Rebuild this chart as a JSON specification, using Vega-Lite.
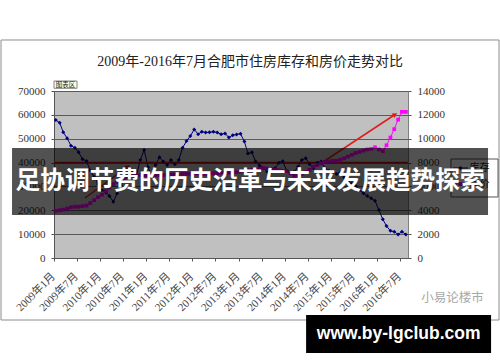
{
  "$schema": "https://vega.github.io/schema/vega-lite/v6.json",
  "width": 354,
  "height": 167,
  "autosize": {"type": "none"},
  "padding": {"left": 54, "top": 91, "right": 92, "bottom": 104},
  "background": "#ffffff",
  "config": {
    "view": {"fill": "#c0c0c0", "stroke": "#808080", "strokeWidth": 1},
    "axis": {"labelFont": "Liberation Serif, Noto Sans CJK SC", "labelColor": "#333333", "labelFontSize": 11, "domainColor": "#555555", "tickColor": "#555555"}
  },
  "datasets": {
    "series": [
      {"date": "2009-01-15", "inventory": 57800, "price": 3950},
      {"date": "2009-02-15", "inventory": 56700, "price": 4000},
      {"date": "2009-03-15", "inventory": 52700, "price": 4050},
      {"date": "2009-04-15", "inventory": 50200, "price": 4150},
      {"date": "2009-05-15", "inventory": 47100, "price": 4250},
      {"date": "2009-06-15", "inventory": 46200, "price": 4300},
      {"date": "2009-07-15", "inventory": 44300, "price": 4300},
      {"date": "2009-08-15", "inventory": 41400, "price": 4350},
      {"date": "2009-09-15", "inventory": 40700, "price": 4400},
      {"date": "2009-10-15", "inventory": 36600, "price": 4600},
      {"date": "2009-11-15", "inventory": 34000, "price": 4850},
      {"date": "2009-12-15", "inventory": 31000, "price": 5100},
      {"date": "2010-01-15", "inventory": 28500, "price": 5300},
      {"date": "2010-02-15", "inventory": 27500, "price": 5600},
      {"date": "2010-03-15", "inventory": 26000, "price": 5900},
      {"date": "2010-04-15", "inventory": 23600, "price": 6200},
      {"date": "2010-05-15", "inventory": 27000, "price": 6400},
      {"date": "2010-06-15", "inventory": 30500, "price": 6600},
      {"date": "2010-07-15", "inventory": 33500, "price": 6750},
      {"date": "2010-08-15", "inventory": 36000, "price": 6850},
      {"date": "2010-09-15", "inventory": 36600, "price": 6900},
      {"date": "2010-10-15", "inventory": 34800, "price": 6900},
      {"date": "2010-11-15", "inventory": 41100, "price": 6950},
      {"date": "2010-12-15", "inventory": 45300, "price": 6950},
      {"date": "2011-01-15", "inventory": 38000, "price": 6900},
      {"date": "2011-02-15", "inventory": 34100, "price": 6900},
      {"date": "2011-03-15", "inventory": 39000, "price": 6950},
      {"date": "2011-04-15", "inventory": 42200, "price": 6950},
      {"date": "2011-05-15", "inventory": 40400, "price": 6950},
      {"date": "2011-06-15", "inventory": 39000, "price": 7000},
      {"date": "2011-07-15", "inventory": 41100, "price": 7000},
      {"date": "2011-08-15", "inventory": 39300, "price": 7000},
      {"date": "2011-09-15", "inventory": 41100, "price": 7000},
      {"date": "2011-10-15", "inventory": 46200, "price": 7050},
      {"date": "2011-11-15", "inventory": 49000, "price": 7050},
      {"date": "2011-12-15", "inventory": 51100, "price": 7050},
      {"date": "2012-01-15", "inventory": 53900, "price": 7100},
      {"date": "2012-02-15", "inventory": 51900, "price": 7100},
      {"date": "2012-03-15", "inventory": 52900, "price": 7050},
      {"date": "2012-04-15", "inventory": 52600, "price": 7050},
      {"date": "2012-05-15", "inventory": 52700, "price": 7100},
      {"date": "2012-06-15", "inventory": 52900, "price": 7100},
      {"date": "2012-07-15", "inventory": 52600, "price": 7100},
      {"date": "2012-08-15", "inventory": 51900, "price": 7150},
      {"date": "2012-09-15", "inventory": 52200, "price": 7150},
      {"date": "2012-10-15", "inventory": 50500, "price": 7150},
      {"date": "2012-11-15", "inventory": 51500, "price": 7200},
      {"date": "2012-12-15", "inventory": 51800, "price": 7200},
      {"date": "2013-01-15", "inventory": 52100, "price": 7250},
      {"date": "2013-02-15", "inventory": 48800, "price": 7300},
      {"date": "2013-03-15", "inventory": 43800, "price": 7350},
      {"date": "2013-04-15", "inventory": 44300, "price": 7400},
      {"date": "2013-05-15", "inventory": 40400, "price": 7450},
      {"date": "2013-06-15", "inventory": 38700, "price": 7500},
      {"date": "2013-07-15", "inventory": 37600, "price": 7550},
      {"date": "2013-08-15", "inventory": 36200, "price": 7500},
      {"date": "2013-09-15", "inventory": 36200, "price": 7450},
      {"date": "2013-10-15", "inventory": 37600, "price": 7400},
      {"date": "2013-11-15", "inventory": 39900, "price": 7350},
      {"date": "2013-12-15", "inventory": 40600, "price": 7300},
      {"date": "2014-01-15", "inventory": 36600, "price": 7300},
      {"date": "2014-02-15", "inventory": 35500, "price": 7100},
      {"date": "2014-03-15", "inventory": 36000, "price": 6900},
      {"date": "2014-04-15", "inventory": 38300, "price": 6950},
      {"date": "2014-05-15", "inventory": 41100, "price": 7050},
      {"date": "2014-06-15", "inventory": 41800, "price": 7200},
      {"date": "2014-07-15", "inventory": 39400, "price": 7400},
      {"date": "2014-08-15", "inventory": 37600, "price": 7650},
      {"date": "2014-09-15", "inventory": 39900, "price": 7800},
      {"date": "2014-10-15", "inventory": 40400, "price": 7950},
      {"date": "2014-11-15", "inventory": 37600, "price": 8050},
      {"date": "2014-12-15", "inventory": 36600, "price": 8100},
      {"date": "2015-01-15", "inventory": 36200, "price": 8150},
      {"date": "2015-02-15", "inventory": 35200, "price": 8150},
      {"date": "2015-03-15", "inventory": 35800, "price": 8250},
      {"date": "2015-04-15", "inventory": 33800, "price": 8350},
      {"date": "2015-05-15", "inventory": 32300, "price": 8500},
      {"date": "2015-06-15", "inventory": 31200, "price": 8650},
      {"date": "2015-07-15", "inventory": 30200, "price": 8800},
      {"date": "2015-08-15", "inventory": 28500, "price": 8900},
      {"date": "2015-09-15", "inventory": 27100, "price": 9000},
      {"date": "2015-10-15", "inventory": 26000, "price": 9100},
      {"date": "2015-11-15", "inventory": 25000, "price": 9150},
      {"date": "2015-12-15", "inventory": 24000, "price": 9280},
      {"date": "2016-01-15", "inventory": 20100, "price": 9100},
      {"date": "2016-02-15", "inventory": 16200, "price": 8950},
      {"date": "2016-03-15", "inventory": 13400, "price": 9450},
      {"date": "2016-04-15", "inventory": 11400, "price": 10100},
      {"date": "2016-05-15", "inventory": 11000, "price": 10800},
      {"date": "2016-06-15", "inventory": 9900, "price": 11600},
      {"date": "2016-07-15", "inventory": 11000, "price": 12250},
      {"date": "2016-08-15", "inventory": 9900, "price": 12250}
    ]
  },
  "layer": [
    {
      "data": {"name": "series"},
      "mark": {"type": "line", "color": "#000080", "strokeWidth": 1},
      "encoding": {
        "x": {
          "field": "date", "type": "temporal", "title": null,
          "scale": {"type": "utc", "domain": [{"year": 2009, "month": 1, "date": 1, "utc": true}, {"year": 2016, "month": 9, "date": 1, "utc": true}]},
          "axis": {
            "orient": "bottom",
            "tickCount": {"interval": "month", "step": 6},
            "labelExpr": "utcFormat(datum.value, '%Y') + '年' + (utcmonth(datum.value) + 1) + '月'",
            "labelAngle": -45,
            "labelFontSize": 11,
            "labelColor": "#444444",
            "tickSize": 3,
            "labelPadding": 9,
            "labelOffset": -5,
            "grid": false,
            "labelOverlap": false,
            "labelFlush": false
          }
        },
        "y": {
          "field": "inventory", "type": "quantitative", "title": null,
          "scale": {"domain": [0, 70000], "nice": false, "zero": false},
          "axis": {"orient": "left", "values": [0, 10000, 20000, 30000, 40000, 50000, 60000, 70000], "format": "d", "grid": true, "gridColor": "#5a5a5a", "gridWidth": 1, "gridOpacity": 1, "tickSize": 3, "labelPadding": 6, "labelFontSize": 11}
        }
      }
    },
    {
      "data": {"values": [{"level": 40000}]},
      "mark": {"type": "rule", "color": "#c01818", "strokeWidth": 1.5},
      "encoding": {
        "y": {"field": "level", "type": "quantitative", "scale": {"domain": [0, 70000], "nice": false, "zero": false}, "axis": null}
      }
    },
    {
      "data": {"name": "series"},
      "mark": {"type": "point", "shape": "diamond", "filled": true, "size": 16, "color": "#000080", "opacity": 1},
      "encoding": {
        "x": {"field": "date", "type": "temporal", "scale": {"type": "utc", "domain": [{"year": 2009, "month": 1, "date": 1, "utc": true}, {"year": 2016, "month": 9, "date": 1, "utc": true}]}, "axis": null},
        "y": {"field": "inventory", "type": "quantitative", "scale": {"domain": [0, 70000], "nice": false, "zero": false}, "axis": null}
      }
    },
    {
      "data": {"values": [
        {"x": "2009-09-03", "y": 25150, "x2": "2010-08-09", "y2": 38270},
        {"x": "2014-10-30", "y": 40240, "x2": "2016-05-22", "y2": 60150}
      ]},
      "mark": {"type": "rule", "color": "#e01c1c", "strokeWidth": 1.5},
      "encoding": {
        "x": {"field": "x", "type": "temporal", "scale": {"type": "utc", "domain": [{"year": 2009, "month": 1, "date": 1, "utc": true}, {"year": 2016, "month": 9, "date": 1, "utc": true}]}, "axis": null},
        "x2": {"field": "x2"},
        "y": {"field": "y", "type": "quantitative", "scale": {"domain": [0, 70000], "nice": false, "zero": false}, "axis": null},
        "y2": {"field": "y2"}
      }
    },
    {
      "data": {"values": [{"x": "2010-08-09", "y": 38270}]},
      "mark": {"type": "point", "shape": "triangle-up", "filled": true, "size": 30, "color": "#e01c1c", "opacity": 1, "angle": 54},
      "encoding": {
        "x": {"field": "x", "type": "temporal", "scale": {"type": "utc", "domain": [{"year": 2009, "month": 1, "date": 1, "utc": true}, {"year": 2016, "month": 9, "date": 1, "utc": true}]}, "axis": null},
        "y": {"field": "y", "type": "quantitative", "scale": {"domain": [0, 70000], "nice": false, "zero": false}, "axis": null}
      }
    },
    {
      "data": {"values": [{"x": "2016-05-22", "y": 60150}]},
      "mark": {"type": "point", "shape": "triangle-up", "filled": true, "size": 30, "color": "#e01c1c", "opacity": 1, "angle": 57},
      "encoding": {
        "x": {"field": "x", "type": "temporal", "scale": {"type": "utc", "domain": [{"year": 2009, "month": 1, "date": 1, "utc": true}, {"year": 2016, "month": 9, "date": 1, "utc": true}]}, "axis": null},
        "y": {"field": "y", "type": "quantitative", "scale": {"domain": [0, 70000], "nice": false, "zero": false}, "axis": null}
      }
    },
    {
      "data": {"values": [{"x": "2007-11-09", "x2": "2018-08-22", "y": 91380, "y2": -25990}]},
      "mark": {"type": "rect", "filled": false, "stroke": "#8c8c8c", "strokeWidth": 1},
      "encoding": {
        "x": {"field": "x", "type": "temporal", "scale": {"type": "utc", "domain": [{"year": 2009, "month": 1, "date": 1, "utc": true}, {"year": 2016, "month": 9, "date": 1, "utc": true}]}, "axis": null},
        "x2": {"field": "x2"},
        "y": {"field": "y", "type": "quantitative", "scale": {"domain": [0, 70000], "nice": false, "zero": false}, "axis": null},
        "y2": {"field": "y2"}
      }
    },
    {
      "data": {"values": [{"x": "2013-04-01", "y": 82155, "label": "2009年-2016年7月合肥市住房库存和房价走势对比"}]},
      "mark": {"type": "text", "fontSize": 14, "font": "Liberation Serif, Noto Sans CJK SC", "color": "#222222", "align": "center", "baseline": "middle"},
      "encoding": {
        "x": {"field": "x", "type": "temporal", "scale": {"type": "utc", "domain": [{"year": 2009, "month": 1, "date": 1, "utc": true}, {"year": 2016, "month": 9, "date": 1, "utc": true}]}, "axis": null},
        "y": {"field": "y", "type": "quantitative", "scale": {"domain": [0, 70000], "nice": false, "zero": false}, "axis": null},
        "text": {"field": "label"}
      }
    },
    {
      "data": {"values": [{"x": "2009-01-01", "x2": "2009-07-02", "y": 74190, "y2": 71130}]},
      "mark": {"type": "rect", "fill": "#ffffe1", "stroke": "#666666", "strokeWidth": 0.8},
      "encoding": {
        "x": {"field": "x", "type": "temporal", "scale": {"type": "utc", "domain": [{"year": 2009, "month": 1, "date": 1, "utc": true}, {"year": 2016, "month": 9, "date": 1, "utc": true}]}, "axis": null},
        "x2": {"field": "x2"},
        "y": {"field": "y", "type": "quantitative", "scale": {"domain": [0, 70000], "nice": false, "zero": false}, "axis": null},
        "y2": {"field": "y2"}
      }
    },
    {
      "data": {"values": [{"x": "2009-04-02", "y": 72640, "label": "图表区"}]},
      "mark": {"type": "text", "fontSize": 6.5, "font": "Noto Sans CJK SC", "color": "#222222", "align": "center", "baseline": "middle"},
      "encoding": {
        "x": {"field": "x", "type": "temporal", "scale": {"type": "utc", "domain": [{"year": 2009, "month": 1, "date": 1, "utc": true}, {"year": 2016, "month": 9, "date": 1, "utc": true}]}, "axis": null},
        "y": {"field": "y", "type": "quantitative", "scale": {"domain": [0, 70000], "nice": false, "zero": false}, "axis": null},
        "text": {"field": "label"}
      }
    },
    {
      "data": {"name": "series"},
      "mark": {"type": "line", "color": "#ff00ff", "strokeWidth": 1},
      "encoding": {
        "x": {"field": "date", "type": "temporal", "scale": {"type": "utc", "domain": [{"year": 2009, "month": 1, "date": 1, "utc": true}, {"year": 2016, "month": 9, "date": 1, "utc": true}]}, "axis": null},
        "y": {
          "field": "price", "type": "quantitative", "title": null,
          "scale": {"domain": [0, 14000], "nice": false, "zero": false},
          "axis": {"orient": "right", "values": [0, 2000, 4000, 6000, 8000, 10000, 12000, 14000], "format": "d", "grid": false, "domain": false, "tickSize": 3, "labelPadding": 6, "labelFontSize": 11}
        }
      }
    },
    {
      "data": {"name": "series"},
      "mark": {"type": "point", "shape": "square", "filled": true, "size": 14, "color": "#ff00ff", "opacity": 1},
      "encoding": {
        "x": {"field": "date", "type": "temporal", "scale": {"type": "utc", "domain": [{"year": 2009, "month": 1, "date": 1, "utc": true}, {"year": 2016, "month": 9, "date": 1, "utc": true}]}, "axis": null},
        "y": {"field": "price", "type": "quantitative", "scale": {"domain": [0, 14000], "nice": false, "zero": false}, "axis": null}
      }
    },
    {
      "data": {"values": [{"x": "2017-08-07", "x2": "2018-08-14", "y": 41497, "y2": 25570}]},
      "mark": {"type": "rect", "fill": "#ffffff", "stroke": "#555555", "strokeWidth": 1},
      "encoding": {
        "x": {"field": "x", "type": "temporal", "scale": {"type": "utc", "domain": [{"year": 2009, "month": 1, "date": 1, "utc": true}, {"year": 2016, "month": 9, "date": 1, "utc": true}]}, "axis": null},
        "x2": {"field": "x2"},
        "y": {"field": "y", "type": "quantitative", "scale": {"domain": [0, 70000], "nice": false, "zero": false}, "axis": null},
        "y2": {"field": "y2"}
      }
    },
    {
      "data": {"values": [
        {"series": "库存", "x": "2017-08-22", "x2": "2017-12-20", "y": 37724},
        {"series": "房价", "x": "2017-08-22", "x2": "2017-12-20", "y": 31018}
      ]},
      "mark": {"type": "rule", "strokeWidth": 1},
      "encoding": {
        "x": {"field": "x", "type": "temporal", "scale": {"type": "utc", "domain": [{"year": 2009, "month": 1, "date": 1, "utc": true}, {"year": 2016, "month": 9, "date": 1, "utc": true}]}, "axis": null},
        "x2": {"field": "x2"},
        "y": {"field": "y", "type": "quantitative", "scale": {"domain": [0, 70000], "nice": false, "zero": false}, "axis": null},
        "color": {"field": "series", "type": "nominal", "scale": {"domain": ["库存", "房价"], "range": ["#000080", "#ff00ff"]}, "legend": null}
      }
    },
    {
      "data": {"values": [
        {"series": "库存", "x": "2017-10-21", "y": 37724},
        {"series": "房价", "x": "2017-10-21", "y": 31018}
      ]},
      "mark": {"type": "point", "filled": true, "size": 16, "opacity": 1},
      "encoding": {
        "x": {"field": "x", "type": "temporal", "scale": {"type": "utc", "domain": [{"year": 2009, "month": 1, "date": 1, "utc": true}, {"year": 2016, "month": 9, "date": 1, "utc": true}]}, "axis": null},
        "y": {"field": "y", "type": "quantitative", "scale": {"domain": [0, 70000], "nice": false, "zero": false}, "axis": null},
        "color": {"field": "series", "type": "nominal", "scale": {"domain": ["库存", "房价"], "range": ["#000080", "#ff00ff"]}, "legend": null},
        "shape": {"field": "series", "type": "nominal", "scale": {"domain": ["库存", "房价"], "range": ["diamond", "square"]}, "legend": null}
      }
    },
    {
      "data": {"values": [
        {"label": "库存", "x": "2018-01-01", "y": 37724},
        {"label": "房价", "x": "2018-01-01", "y": 31018}
      ]},
      "mark": {"type": "text", "fontSize": 10, "font": "Noto Sans CJK SC", "color": "#222222", "align": "left", "baseline": "middle"},
      "encoding": {
        "x": {"field": "x", "type": "temporal", "scale": {"type": "utc", "domain": [{"year": 2009, "month": 1, "date": 1, "utc": true}, {"year": 2016, "month": 9, "date": 1, "utc": true}]}, "axis": null},
        "y": {"field": "y", "type": "quantitative", "scale": {"domain": [0, 70000], "nice": false, "zero": false}, "axis": null},
        "text": {"field": "label"}
      }
    },
    {
      "data": {"values": [{"x": "2008-02-04", "x2": "2018-05-27", "y": 46108, "y2": 18024}]},
      "mark": {"type": "rect", "fill": "#000000", "fillOpacity": 0.68},
      "encoding": {
        "x": {"field": "x", "type": "temporal", "scale": {"type": "utc", "domain": [{"year": 2009, "month": 1, "date": 1, "utc": true}, {"year": 2016, "month": 9, "date": 1, "utc": true}]}, "axis": null},
        "x2": {"field": "x2"},
        "y": {"field": "y", "type": "quantitative", "scale": {"domain": [0, 70000], "nice": false, "zero": false}, "axis": null},
        "y2": {"field": "y2"}
      }
    },
    {
      "data": {"values": [{"x": "2013-04-01", "y": 31856, "label": "足协调节费的历史沿革与未来发展趋势探索"}]},
      "mark": {"type": "text", "fontSize": 24.7, "font": "Noto Sans CJK SC", "fontWeight": "bold", "color": "#ffffff", "align": "center", "baseline": "middle"},
      "encoding": {
        "x": {"field": "x", "type": "temporal", "scale": {"type": "utc", "domain": [{"year": 2009, "month": 1, "date": 1, "utc": true}, {"year": 2016, "month": 9, "date": 1, "utc": true}]}, "axis": null},
        "y": {"field": "y", "type": "quantitative", "scale": {"domain": [0, 70000], "nice": false, "zero": false}, "axis": null},
        "text": {"field": "label"}
      }
    },
    {
      "data": {"values": [{"x": "2014-06-18", "x2": "2018-06-20", "y": -23892, "y2": -39820}]},
      "mark": {"type": "rect", "fill": "#000000"},
      "encoding": {
        "x": {"field": "x", "type": "temporal", "scale": {"type": "utc", "domain": [{"year": 2009, "month": 1, "date": 1, "utc": true}, {"year": 2016, "month": 9, "date": 1, "utc": true}]}, "axis": null},
        "x2": {"field": "x2"},
        "y": {"field": "y", "type": "quantitative", "scale": {"domain": [0, 70000], "nice": false, "zero": false}, "axis": null},
        "y2": {"field": "y2"}
      }
    },
    {
      "data": {"values": [{"x": "2016-06-19", "y": -31856, "label": "www.by-lgclub.com"}]},
      "mark": {"type": "text", "fontSize": 17.5, "font": "Liberation Sans", "fontWeight": "bold", "color": "#ffffff", "align": "center", "baseline": "middle"},
      "encoding": {
        "x": {"field": "x", "type": "temporal", "scale": {"type": "utc", "domain": [{"year": 2009, "month": 1, "date": 1, "utc": true}, {"year": 2016, "month": 9, "date": 1, "utc": true}]}, "axis": null},
        "y": {"field": "y", "type": "quantitative", "scale": {"domain": [0, 70000], "nice": false, "zero": false}, "axis": null},
        "text": {"field": "label"}
      }
    },
    {
      "data": {"values": [{"x": "2017-08-19", "y": -16766, "label": "小易论楼市"}]},
      "mark": {"type": "text", "fontSize": 12.5, "font": "Noto Sans CJK SC", "color": "#a8a8a8", "align": "center", "baseline": "middle"},
      "encoding": {
        "x": {"field": "x", "type": "temporal", "scale": {"type": "utc", "domain": [{"year": 2009, "month": 1, "date": 1, "utc": true}, {"year": 2016, "month": 9, "date": 1, "utc": true}]}, "axis": null},
        "y": {"field": "y", "type": "quantitative", "scale": {"domain": [0, 70000], "nice": false, "zero": false}, "axis": null},
        "text": {"field": "label"}
      }
    }
  ],
  "resolve": {"scale": {"y": "independent"}, "axis": {"x": "independent", "y": "independent"}}
}
